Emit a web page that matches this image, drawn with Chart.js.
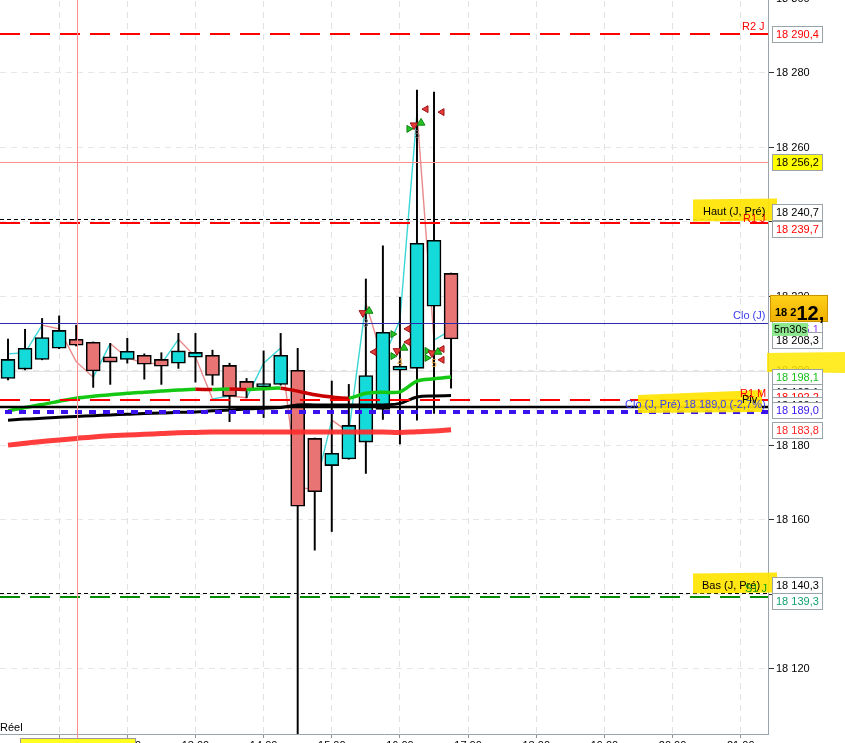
<!DOCTYPE html>
<html>
<head>
<meta charset="utf-8">
<title>Graphique 15 min</title>
<script src="https://cdn.jsdelivr.net/npm/chart.js@4.4.1/dist/chart.umd.min.js"></script>
<style>
  html, body { margin: 0; padding: 0; background: #fff; overflow: hidden; }
  #wrap { position: absolute; left: 0; top: -10px; width: 845px; height: 770px; }
</style>
</head>
<body>
<div id="wrap"><canvas id="chart" width="845" height="770"></canvas></div>
<script>
/* Bougies 15 min (ouverture, haut, bas, clôture) */
var candleOpen  = [18198.0, 18200.5, 18203.1, 18206.1, 18208.5, 18207.7, 18203.8, 18203.1, 18204.2, 18203.1,
                   18202.1, 18203.7, 18204.2, 18201.5, 18197.2, 18195.8, 18196.4, 18200.2, 18181.9, 18174.6,
                   18176.4, 18180.9, 18189.7, 18200.2, 18200.7, 18217.4, 18226.2];
var candleHigh  = [18208.6, 18211.2, 18214.1, 18214.8, 18212.3, 18207.8, 18207.4, 18208.8, 18204.6, 18204.9,
                   18210.1, 18210.1, 18205.6, 18202.1, 18198.0, 18205.4, 18210.1, 18206.1, 18182.0, 18197.3,
                   18196.4, 18224.7, 18233.6, 18219.8, 18275.4, 18274.9, 18226.3];
var candleLow   = [18197.6, 18200.3, 18203.0, 18206.0, 18206.7, 18195.6, 18196.4, 18202.1, 18197.8, 18196.4,
                   18200.7, 18197.0, 18196.2, 18186.4, 18192.8, 18187.5, 18196.2, 18102.0, 18151.9, 18156.9,
                   18176.3, 18172.5, 18187.0, 18180.4, 18186.8, 18188.6, 18195.4];
var candleClose = [18203.1, 18206.1, 18209.0, 18210.9, 18206.9, 18200.0, 18202.4, 18205.3, 18201.8, 18201.3,
                   18205.4, 18205.0, 18198.8, 18193.2, 18194.8, 18196.6, 18204.2, 18163.7, 18167.6, 18177.9,
                   18185.4, 18198.8, 18210.4, 18201.3, 18234.3, 18235.1, 18208.6];

/* Indicateurs */
var maGreen = [18189.3, 18190.2, 18191.0, 18191.9, 18192.7, 18193.2, 18193.6, 18194.0, 18194.3, 18194.6,
               18194.9, 18195.1, 18195.0, 18195.15, 18195.05, 18195.25, 18195.4, 18194.6, 18193.6, 18193.0,
               18192.7, 18194.0, 18194.3, 18194.4, 18197.3, 18197.9, 18198.4];
var maBlack = [18186.8, 18187.1, 18187.3, 18187.6, 18187.8, 18188.0, 18188.2, 18188.4, 18188.6, 18188.7,
               18188.9, 18189.0, 18189.3, 18189.5, 18189.8, 18190.0, 18190.2, 18190.9, 18190.9, 18190.9,
               18190.9, 18190.9, 18190.9, 18191.3, 18193.0, 18193.3, 18193.4];
var maRed   = [18180.1, 18180.6, 18181.1, 18181.5, 18181.9, 18182.3, 18182.6, 18182.8, 18183.0, 18183.2,
               18183.4, 18183.5, 18183.6, 18183.6, 18183.6, 18183.6, 18183.6, 18183.6, 18183.6, 18183.6,
               18183.6, 18183.6, 18183.6, 18183.5, 18183.7, 18183.9, 18184.2];
var zigzag  = [18204.6, 18204.9, 18212.3, 18211.3, 18202.5, 18198.3, 18207.4, 18203.5, 18202.1, 18201.9,
               18208.5, 18203.8, 18192.5, 18193.3, 18192.8, 18202.1, 18206.2, 18168.9, 18168.1, 18186.8,
               18183.6, 18218.3, 18203.0, 18213.7, 18269.3, 18208.3, 18211.0];

/* Flèches de signaux (position en bougies, prix) */
var upX = [21.19, 23.24, 25.23, 24.24];
var upY = [18216.1, 18206.2, 18205.1, 18266.6];
var downX = [20.83, 22.83, 24.88, 23.83];
var downY = [18215.6, 18205.4, 18204.8, 18266.0];
var rightX = [22.59, 22.59, 24.59, 24.59, 23.53];
var rightY = [18209.9, 18204.0, 18205.4, 18203.5, 18265.0];
var leftX = [21.48, 23.47, 23.47, 25.47, 25.47, 24.53, 25.47];
var leftY = [18205.1, 18211.3, 18207.8, 18205.9, 18203.0, 18270.3, 18269.5];
var numX = [21.0, 23.0, 25.0, 24.0];
var numY = [18212.6, 18202.1, 18201.9, 18263.4];
var numText = ['3', '4', '5', '5'];

/* Axe du temps */
var hourTicks = [3, 7, 11, 15, 19, 23, 27, 31, 35, 39, 43];
var hourLabels = ['11:00', '12:00', '13:00', '14:00', '15:00', '16:00', '17:00', '18:00', '19:00', '20:00', '21:00'];

/* Axe des prix */
var priceTicks = [18120, 18140, 18160, 18180, 18200, 18220, 18240, 18260, 18280, 18300];
var solidGridValue = 18200;

/* Niveaux horizontaux */
var levelNames  = ['R2 J', 'Curseur', 'Haut (J, Pré)', 'R1 J', 'Clo (J)', 'R1 M', 'Piv', 'Clo (J, Pré)', 'Bas (J, Pré)', 'S1 J'];
var levelValues = [18290.4, 18256.2, 18240.7, 18239.7, 18212.9, 18192.2, 18190.4, 18189.0, 18140.3, 18139.3];
var cursorIndex = 4.05;
var lastPrice = 18212.9;
var timerText = '5m30s';

/* Étiquettes de l'axe des prix */
var tagValues = [18290.4, 18256.2, 18240.7, 18239.7, 18215.1, 18208.3, 18198.1, 18193.1, 18192.2, 18190.4,
                 18189.0, 18183.8, 18140.3, 18139.3];

/* Styles */
var levelStyles = [
    { color: '#ff0000', width: 2, dash: [20, 10] },
    { color: '#ff8c8c', width: 1, dash: [] },
    { color: '#000000', width: 1, dash: [4, 3] },
    { color: '#ff0000', width: 2, dash: [20, 10] },
    { color: '#2a2ab0', width: 1, dash: [] },
    { color: '#ff0000', width: 2, dash: [20, 10] },
    { color: '#000000', width: 2.5, dash: [] },
    { color: '#3a12f0', width: 4, dash: [7, 7], offset: 9 },
    { color: '#000000', width: 1, dash: [4, 3] },
    { color: '#008c00', width: 2, dash: [20, 10] }
];
var tagStyles = [
    { c: '#ff0000', bg: '#ffffff', dy: 0 },
    { c: '#000000', bg: '#ffff00', dy: 0 },
    { c: '#000000', bg: '#ffffff', dy: -7 },
    { c: '#ff0000', bg: '#ffffff', dy: 6 },
    { c: '#8a3cff', bg: '#ffffff', dy: 14 },
    { c: '#000000', bg: '#ffffff', dy: 0 },
    { c: '#18c018', bg: '#ffffff', dy: -1 },
    { c: '#000000', bg: '#ffffff', dy: -5 },
    { c: '#ff0000', bg: '#ffffff', dy: -3.5 },
    { c: '#000000', bg: '#ffffff', dy: -2 },
    { c: '#3a14f0', bg: '#ffffff', dy: -1.5 },
    { c: '#ff2020', bg: '#ffffff', dy: -1 },
    { c: '#000000', bg: '#ffffff', dy: -8 },
    { c: '#10a070', bg: '#ffffff', dy: 4 }
];

var FONT = "'Liberation Sans', Arial, sans-serif";
Chart.defaults.font.family = FONT;
Chart.defaults.font.size = 11;
Chart.defaults.color = '#000';

function fmt(v, dec) {
    var s = v.toFixed(dec).replace('.', ',');
    var parts = s.split(',');
    var ent = parts[0].replace(/\B(?=(\d{3})+(?!\d))/g, ' ');
    return parts.length > 1 ? ent + ',' + parts[1] : ent;
}

function tag(c, yc, text, color, bg) {
    var top = Math.round(yc - 8) + 0.5;
    c.fillStyle = bg;
    c.fillRect(772.5, top, 50, 16);
    c.strokeStyle = '#9aa4a8';
    c.lineWidth = 1;
    c.setLineDash([]);
    c.strokeRect(772.5, top, 50, 16);
    c.fillStyle = color;
    c.font = '11px ' + FONT;
    c.textBaseline = 'middle';
    c.textAlign = 'left';
    c.fillText(text, 776, top + 8.5);
}

function poly(c, pts) {
    c.beginPath();
    c.moveTo(pts[0][0], pts[0][1]);
    for (var i = 1; i < pts.length; i++) c.lineTo(pts[i][0], pts[i][1]);
    c.closePath();
    c.fill();
}

var overlay = {
    id: 'overlay',
    beforeDatasetsDraw: function (chart) {
        // ligne de grille pleine à 18 200
        var c = chart.ctx, a = chart.chartArea;
        var py = Math.round(chart.scales.y.getPixelForValue(solidGridValue)) + 0.5;
        c.save();
        c.strokeStyle = '#e4e4e4';
        c.lineWidth = 1;
        c.beginPath();
        c.moveTo(a.left, py);
        c.lineTo(a.right, py);
        c.stroke();
        c.restore();
    },
    afterDatasetsDraw: function (chart) {
        var c = chart.ctx, a = chart.chartArea, x = chart.scales.x, y = chart.scales.y;
        c.save();
        c.beginPath();
        c.rect(a.left, a.top, a.right - a.left, a.bottom - a.top);
        c.clip();
        levelValues.forEach(function (v, i) {
            var s = levelStyles[i];
            var py = Math.round(y.getPixelForValue(v)) + (s.width === 1 ? 0.5 : 0);
            c.strokeStyle = s.color;
            c.lineWidth = s.width;
            c.setLineDash(s.dash);
            c.lineDashOffset = s.offset || 0;
            c.beginPath();
            c.moveTo(a.left, py);
            c.lineTo(a.right, py);
            c.stroke();
        });
        c.font = '10px ' + FONT;
        c.textAlign = 'center';
        c.textBaseline = 'middle';
        numText.forEach(function (t, i) {
            c.fillStyle = i === 1 || i === 2 ? '#e8a040' : '#707070';
            c.fillText(t, x.getPixelForValue(numX[i]), y.getPixelForValue(numY[i]));
        });
        c.restore();

        // curseur vertical
        var cx = Math.round(x.getPixelForValue(cursorIndex)) + 0.5;
        c.save();
        c.strokeStyle = '#ff8c8c';
        c.lineWidth = 1;
        c.beginPath();
        c.moveTo(cx, a.top);
        c.lineTo(cx, a.bottom + 5);
        c.stroke();
        c.restore();
    },
    afterDraw: function (chart) {
        var c = chart.ctx, a = chart.chartArea, y = chart.scales.y;
        var py = function (v) { return y.getPixelForValue(v); };
        c.save();
        c.font = '11px ' + FONT;
        c.textBaseline = 'alphabetic';
        c.textAlign = 'left';

        // surlignages jaunes à gauche de l'axe
        var pHaut = py(levelValues[2]), pCloP = py(levelValues[7]), pBas = py(levelValues[8]);
        c.fillStyle = 'rgba(255,228,0,0.92)';
        poly(c, [[693, pHaut - 20], [777, pHaut - 21], [777, pHaut + 1], [693, pHaut + 2]]);
        poly(c, [[638, pCloP - 17], [762, pCloP - 22], [762, pCloP], [638, pCloP + 1]]);
        poly(c, [[693, pBas - 20], [777, pBas - 21], [777, pBas - 1], [693, pBas]]);

        c.fillStyle = '#ff0000';
        c.fillText(levelNames[0], 742, py(levelValues[0]) - 4);
        c.fillText(levelNames[3], 743, py(levelValues[3]) - 1);
        c.fillStyle = '#000';
        c.fillText(levelNames[2], 703, pHaut - 4);
        c.fillStyle = '#3c3cf0';
        c.fillText(levelNames[4], 733, py(levelValues[4]) - 4);
        c.fillText(levelNames[7] + ' ' + fmt(levelValues[7], 1) + ' (-2,7%)', 625, pCloP - 4);
        c.fillStyle = '#ff0000';
        c.fillText(levelNames[5], 740, py(levelValues[5]) - 3);
        c.fillStyle = '#000';
        c.fillText(levelNames[6], 742, py(levelValues[6]) - 4);
        c.fillText(levelNames[8], 702, pBas - 4);
        c.fillStyle = '#10a010';
        c.fillText(levelNames[9], 745, py(levelValues[9]) - 5);
        c.fillStyle = '#000';
        c.fillText('Réel', 0, a.bottom - 3);

        // bande surlignée sur l'axe des prix
        var p200 = py(solidGridValue);
        c.fillStyle = 'rgba(255,232,0,0.85)';
        poly(c, [[767, p200 - 18], [845, p200 - 19], [845, p200 + 2], [767, p200 + 1]]);

        tagValues.forEach(function (v, i) {
            var s = tagStyles[i];
            tag(c, py(v) + s.dy, fmt(v, 1), s.c, s.bg);
        });

        // dernier cours
        var pl = py(lastPrice) - 15;
        var g = c.createLinearGradient(0, pl - 13, 0, pl + 13);
        g.addColorStop(0, '#ffd21a');
        g.addColorStop(1, '#f0b000');
        c.fillStyle = g;
        c.fillRect(770, pl - 13, 58, 26);
        c.strokeStyle = '#c89400';
        c.lineWidth = 1;
        c.strokeRect(770.5, Math.round(pl - 13) + 0.5, 57, 26);
        var txt = fmt(lastPrice, 1);
        c.fillStyle = '#000';
        c.font = 'bold 11px ' + FONT;
        c.fillText(txt.slice(0, 4), 775, pl + 5);
        var w4 = c.measureText(txt.slice(0, 4)).width;
        c.font = 'bold 20px ' + FONT;
        c.fillText(txt.slice(4, 7), 775 + w4, pl + 7);

        // minuterie
        var pt = py(lastPrice) + 6.5;
        c.fillStyle = '#8ee88e';
        c.fillRect(772, pt - 6.5, 36, 13);
        c.fillStyle = '#000';
        c.font = '11px ' + FONT;
        c.textBaseline = 'middle';
        c.fillText(timerText, 774, pt + 0.5);

        // encadré date sur l'axe du temps
        c.fillStyle = '#ffff20';
        c.fillRect(20, a.bottom + 4, 115, 14);
        c.strokeStyle = '#9a9a9a';
        c.strokeRect(20.5, a.bottom + 4.5, 115, 14);
        c.restore();
    }
};

var idx = candleOpen.map(function (v, i) { return i; });
function series(arr) { return idx.map(function (i) { return { x: i, y: arr[i] }; }); }
function points(xs, ys) { return xs.map(function (v, i) { return { x: v, y: ys[i] }; }); }

var ctx = document.getElementById('chart');
var chart = new Chart(ctx, {
    type: 'bar',
    data: {
        datasets: [
            {
                type: 'line',
                label: 'Zigzag',
                data: series(zigzag),
                borderWidth: 1.4,
                pointRadius: 0,
                tension: 0,
                segment: {
                    borderColor: function (s) { return s.p1.parsed.y >= s.p0.parsed.y ? '#3cd6d6' : '#e88a8a'; }
                },
                order: 6
            },
            {
                type: 'bar',
                label: 'Mèches',
                data: idx.map(function (i) { return { x: i, y: [candleLow[i], candleHigh[i]] }; }),
                backgroundColor: '#000',
                barThickness: 1.3,
                grouped: false,
                order: 5
            },
            {
                type: 'bar',
                label: 'Corps',
                data: idx.map(function (i) { return { x: i, y: [candleOpen[i], candleClose[i]] }; }),
                backgroundColor: idx.map(function (i) { return candleClose[i] >= candleOpen[i] ? '#14dada' : '#e87474'; }),
                borderColor: '#000',
                borderWidth: 1.6,
                borderSkipped: false,
                barThickness: 14,
                grouped: false,
                order: 4
            },
            {
                type: 'line',
                label: 'MM lente',
                data: series(maRed),
                borderColor: 'rgba(255,45,45,0.92)',
                borderWidth: 5,
                pointRadius: 0,
                tension: 0.4,
                order: 3
            },
            {
                type: 'line',
                label: 'MM moyenne',
                data: series(maBlack),
                borderColor: '#000',
                borderWidth: 3,
                pointRadius: 0,
                tension: 0.4,
                order: 3
            },
            {
                type: 'line',
                label: 'MM rapide',
                data: series(maGreen),
                borderWidth: 3.5,
                pointRadius: 0,
                tension: 0.3,
                segment: {
                    borderColor: function (s) { return s.p1.parsed.y < s.p0.parsed.y ? '#c80000' : '#14c814'; }
                },
                order: 2
            },
            {
                type: 'scatter', label: 'Achat', data: points(upX, upY),
                pointStyle: 'triangle', rotation: 0, pointRadius: 4.5,
                backgroundColor: '#22c422', borderColor: '#118011', borderWidth: 1, order: 1
            },
            {
                type: 'scatter', label: 'Vente', data: points(downX, downY),
                pointStyle: 'triangle', rotation: 180, pointRadius: 4.5,
                backgroundColor: '#e23a3a', borderColor: '#a01414', borderWidth: 1, order: 1
            },
            {
                type: 'scatter', label: 'Sortie vente', data: points(rightX, rightY),
                pointStyle: 'triangle', rotation: 90, pointRadius: 4,
                backgroundColor: '#22c422', borderColor: '#118011', borderWidth: 1, order: 1
            },
            {
                type: 'scatter', label: 'Sortie achat', data: points(leftX, leftY),
                pointStyle: 'triangle', rotation: 270, pointRadius: 4,
                backgroundColor: '#e23a3a', borderColor: '#a01414', borderWidth: 1, order: 1
            }
        ]
    },
    options: {
        responsive: false,
        maintainAspectRatio: false,
        animation: false,
        layout: { padding: 0, autoPadding: false },
        plugins: {
            legend: { display: false },
            tooltip: { enabled: false }
        },
        scales: {
            x: {
                type: 'linear',
                min: -0.47,
                max: 44.6,
                offset: false,
                grid: { offset: false, color: '#e2e2e2', tickColor: '#8a949a', tickLength: 4 },
                border: { color: '#9aa4aa', dash: [6, 5] },
                ticks: {
                    padding: 1,
                    maxRotation: 0,
                    autoSkip: false,
                    callback: function (value, i) { return hourLabels[i]; }
                },
                afterBuildTicks: function (scale) {
                    scale.ticks = hourTicks.map(function (v) { return { value: v }; });
                },
                afterFit: function (scale) {
                    scale.height = 26;
                    scale.paddingLeft = 0;
                    scale.paddingRight = 0;
                }
            },
            y: {
                type: 'linear',
                position: 'right',
                min: 18102.55,
                max: 18302.28,
                grid: { color: '#e6e6e6', tickColor: '#333', tickLength: 6 },
                border: { color: '#9aa4aa', dash: [6, 5] },
                ticks: {
                    padding: 2,
                    callback: function (value) { return fmt(value, 0); }
                },
                afterBuildTicks: function (scale) {
                    scale.ticks = priceTicks.map(function (v) { return { value: v }; });
                },
                afterFit: function (scale) {
                    scale.width = 77;
                    scale.paddingTop = 0;
                    scale.paddingBottom = 0;
                }
            }
        }
    },
    plugins: [overlay]
});
</script>
</body>
</html>
